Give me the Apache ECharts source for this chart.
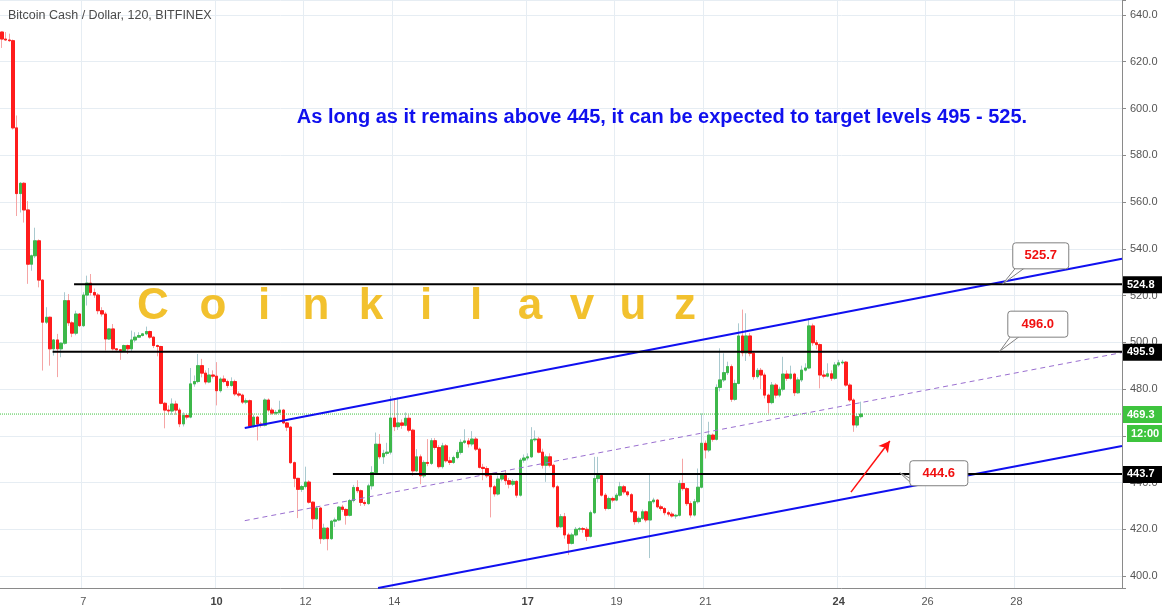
<!DOCTYPE html>
<html>
<head>
<meta charset="utf-8">
<script src="https://cdn.jsdelivr.net/npm/echarts@6/dist/echarts.min.js"></script>
<style>
  html, body { margin: 0; padding: 0; background: #fff; }
  #main { width: 1162px; height: 614px; }
</style>
</head>
<body>
<div id="main"></div>
<script>
// 2h candles, first one on day 5 at 04:00
const firstDay = 5;
const firstHour = 4;
const stepHours = 2;
const slotCount = 303;

const dayLabels = [7, 10, 12, 14, 17, 19, 21, 24, 26, 28];
const boldDays = [10, 17, 24];

// [open, close, low, high]
const bars = [
  [632.7, 629.7, 625.9, 632.9], [629.7, 629.3, 629.0, 632.7], [629.3, 629.0, 628.5, 632.0], [629.0, 591.7, 591.0, 629.5],
  [591.7, 563.6, 554.0, 597.0], [563.6, 568.0, 555.5, 568.5], [568.0, 556.6, 551.2, 568.5], [556.6, 533.4, 525.0, 560.4],
  [533.4, 537.0, 530.6, 537.5], [537.0, 543.4, 536.0, 549.0], [543.4, 526.6, 523.5, 544.0], [526.6, 508.6, 487.9, 527.0],
  [508.6, 510.7, 507.8, 515.0], [510.7, 497.2, 490.0, 511.0], [497.2, 501.0, 494.3, 501.4], [501.0, 497.2, 485.1, 503.6],
  [497.2, 499.6, 493.6, 500.0], [499.6, 517.8, 499.0, 521.4], [517.8, 508.3, 507.0, 520.6], [508.3, 503.9, 502.2, 509.0],
  [503.9, 512.1, 503.0, 513.5], [512.1, 507.1, 506.5, 512.5], [507.1, 520.2, 506.5, 521.4], [520.2, 525.3, 515.7, 528.5],
  [525.3, 521.3, 520.0, 529.2], [521.3, 520.2, 519.0, 523.0], [520.2, 513.5, 512.0, 521.0], [513.5, 512.1, 511.0, 515.0],
  [512.1, 501.4, 496.5, 513.0], [501.4, 505.7, 501.0, 506.0], [505.7, 497.2, 496.5, 507.8], [497.2, 496.8, 496.5, 497.5],
  [496.8, 496.5, 492.5, 497.0], [496.5, 498.6, 496.5, 499.0], [498.6, 497.2, 495.0, 499.0], [497.2, 501.0, 496.0, 505.0],
  [501.0, 502.2, 500.0, 504.3], [502.2, 502.9, 502.0, 504.3], [502.9, 503.6, 502.5, 504.0], [503.6, 504.6, 503.0, 506.7],
  [504.6, 502.2, 501.5, 505.0], [502.2, 498.6, 497.5, 502.5], [498.6, 498.2, 494.0, 499.0], [498.2, 473.9, 473.5, 498.5],
  [473.9, 471.0, 463.2, 474.5], [471.0, 470.6, 469.0, 473.0], [470.6, 473.6, 469.0, 476.0], [473.6, 471.0, 469.0, 475.0],
  [471.0, 465.1, 463.7, 472.0], [465.1, 468.7, 464.0, 470.0], [468.7, 468.0, 467.0, 469.5], [468.0, 482.2, 467.5, 489.0],
  [482.2, 483.2, 481.0, 485.8], [483.2, 490.0, 482.5, 495.0], [490.0, 486.8, 485.0, 492.9], [486.8, 483.0, 482.0, 488.0],
  [483.0, 486.0, 482.5, 489.0], [486.0, 485.5, 484.5, 488.0], [485.5, 479.3, 473.0, 491.5], [479.3, 484.3, 478.5, 485.0],
  [484.3, 483.2, 482.5, 485.8], [483.2, 481.5, 480.5, 484.0], [481.5, 483.2, 481.0, 485.0], [483.2, 477.9, 477.0, 484.0],
  [477.9, 477.4, 476.5, 479.0], [477.4, 474.4, 473.6, 478.0], [474.4, 475.0, 473.5, 476.0], [475.0, 464.1, 463.5, 475.5],
  [464.1, 468.0, 463.5, 469.0], [468.0, 465.0, 458.0, 468.5], [465.0, 464.5, 463.5, 466.0], [464.5, 475.3, 464.0, 476.0],
  [475.3, 471.0, 470.0, 476.0], [471.0, 469.7, 469.0, 472.0], [469.7, 470.0, 469.0, 471.0], [470.0, 471.0, 469.5, 475.0],
  [471.0, 465.5, 465.0, 471.5], [465.5, 463.7, 462.0, 466.0], [463.7, 448.5, 448.0, 464.2], [448.5, 441.8, 438.0, 449.0],
  [441.8, 437.1, 424.8, 442.0], [437.1, 438.3, 436.0, 439.0], [438.3, 440.2, 437.5, 446.8], [440.2, 431.6, 431.0, 441.0],
  [431.6, 424.5, 420.2, 432.0], [424.5, 429.1, 424.0, 430.0], [429.1, 416.0, 413.8, 429.5], [416.0, 420.5, 415.5, 422.4],
  [420.5, 416.0, 411.0, 421.0], [416.0, 423.5, 415.5, 424.0], [423.5, 424.0, 421.0, 425.0], [424.0, 429.5, 423.5, 430.0],
  [429.5, 428.5, 427.5, 430.5], [428.5, 426.0, 422.0, 429.0], [426.0, 432.3, 425.5, 433.0], [432.3, 437.9, 431.5, 439.0],
  [437.9, 436.5, 435.5, 441.0], [436.5, 431.5, 430.0, 437.0], [431.5, 431.0, 430.0, 432.5], [431.0, 438.6, 430.5, 439.5],
  [438.6, 444.3, 437.0, 447.0], [444.3, 456.4, 443.5, 461.4], [456.4, 451.0, 450.0, 460.7], [451.0, 452.5, 448.0, 454.0],
  [452.5, 453.0, 451.5, 457.0], [453.0, 467.6, 452.0, 477.0], [467.6, 463.9, 462.0, 476.0], [463.9, 465.5, 462.5, 476.4],
  [465.5, 464.5, 463.0, 467.0], [464.5, 467.5, 464.0, 470.0], [467.5, 462.4, 461.5, 469.0], [462.4, 445.0, 442.9, 463.0],
  [445.0, 451.0, 444.5, 454.3], [451.0, 442.9, 439.3, 452.0], [442.9, 448.6, 442.0, 449.5], [448.6, 448.2, 447.0, 458.6],
  [448.2, 457.9, 447.5, 459.0], [457.9, 455.0, 454.0, 459.0], [455.0, 446.8, 446.0, 456.0], [446.8, 455.7, 446.0, 457.0],
  [455.7, 449.3, 448.5, 456.5], [449.3, 448.6, 447.5, 451.0], [448.6, 450.7, 448.0, 451.5], [450.7, 452.9, 450.0, 454.0],
  [452.9, 457.2, 452.0, 458.5], [457.2, 457.8, 456.5, 462.8], [457.8, 456.5, 455.0, 459.0], [456.5, 458.6, 455.5, 462.0],
  [458.6, 454.3, 453.5, 459.5], [454.3, 446.5, 446.0, 455.0], [446.5, 446.0, 441.0, 448.0], [446.0, 442.9, 442.0, 447.0],
  [442.9, 438.2, 425.1, 443.5], [438.2, 435.1, 434.0, 439.0], [435.1, 441.5, 434.5, 443.0], [441.5, 443.0, 440.5, 444.0],
  [443.0, 440.8, 439.0, 445.0], [440.8, 439.3, 437.5, 442.0], [439.3, 440.5, 438.5, 441.5], [440.5, 434.6, 433.5, 441.0],
  [434.6, 449.6, 434.0, 450.5], [449.6, 450.5, 448.5, 452.0], [450.5, 451.0, 449.5, 452.5], [451.0, 458.3, 450.5, 463.7],
  [458.3, 458.6, 457.5, 462.3], [458.6, 453.0, 452.5, 459.5], [453.0, 447.4, 446.0, 454.5], [447.4, 451.0, 440.3, 452.0],
  [451.0, 447.4, 446.5, 452.5], [447.4, 438.2, 437.5, 448.0], [438.2, 421.1, 420.5, 439.0], [421.1, 425.4, 420.5, 426.5],
  [425.4, 417.6, 416.0, 427.0], [417.6, 414.0, 409.0, 418.5], [414.0, 417.6, 413.5, 418.5], [417.6, 420.0, 417.0, 421.0],
  [420.0, 420.3, 419.0, 421.0], [420.3, 420.0, 418.5, 421.0], [420.0, 417.0, 415.0, 421.0], [417.0, 427.1, 416.5, 428.0],
  [427.1, 441.7, 426.5, 451.0], [441.7, 443.0, 440.0, 451.0], [443.0, 434.6, 434.0, 444.0], [434.6, 428.9, 428.0, 435.5],
  [428.9, 433.2, 428.5, 434.0], [433.2, 432.5, 431.5, 434.0], [432.5, 434.6, 432.0, 435.5], [434.6, 438.2, 434.0, 440.3],
  [438.2, 436.0, 435.0, 439.0], [436.0, 434.8, 434.0, 436.5], [434.8, 427.5, 427.0, 435.5], [427.5, 423.3, 422.0, 428.0],
  [423.3, 424.7, 422.5, 425.5], [424.7, 427.5, 424.0, 428.5], [427.5, 424.0, 423.0, 428.0], [424.0, 431.8, 407.7, 444.1],
  [431.8, 432.5, 431.0, 433.5], [432.5, 429.6, 429.0, 433.0], [429.6, 428.9, 428.0, 430.5], [428.9, 427.1, 426.0, 429.5],
  [427.1, 426.5, 425.5, 428.0], [426.5, 425.7, 425.0, 427.5], [425.7, 426.0, 424.5, 426.5], [426.0, 439.6, 425.5, 441.0],
  [439.6, 437.4, 436.5, 450.2], [437.4, 431.0, 430.0, 438.0], [431.0, 426.1, 425.0, 432.0], [426.1, 431.8, 425.5, 433.0],
  [431.8, 438.0, 431.0, 446.0], [438.0, 456.8, 437.5, 469.6], [456.8, 453.9, 450.3, 458.0], [453.9, 460.3, 453.0, 466.0],
  [460.3, 458.5, 457.5, 461.0], [458.5, 480.7, 458.0, 482.0], [480.7, 483.9, 479.0, 497.4], [483.9, 487.0, 483.0, 495.3],
  [487.0, 489.6, 486.0, 491.7], [489.6, 475.6, 474.5, 490.5], [475.6, 482.4, 475.0, 484.0], [482.4, 502.7, 482.0, 508.1],
  [502.7, 495.5, 494.0, 514.0], [495.5, 502.7, 492.0, 512.4], [502.7, 495.3, 494.0, 504.0], [495.3, 485.3, 484.0, 496.0],
  [485.3, 488.0, 484.5, 489.0], [488.0, 486.0, 480.0, 489.0], [486.0, 477.4, 476.0, 487.0], [477.4, 474.2, 469.6, 478.0],
  [474.2, 481.7, 473.5, 483.0], [481.7, 477.4, 476.0, 482.5], [477.4, 479.9, 476.5, 481.0], [479.9, 486.4, 479.0, 493.8],
  [486.4, 484.6, 483.5, 488.0], [484.6, 486.4, 484.0, 490.0], [486.4, 478.4, 477.0, 487.0], [478.4, 483.9, 478.0, 485.0],
  [483.9, 488.1, 483.0, 490.0], [488.1, 489.0, 487.5, 491.0], [489.0, 507.0, 488.5, 510.2], [507.0, 499.8, 498.5, 508.0],
  [499.8, 499.0, 497.0, 501.0], [499.0, 486.0, 480.3, 499.5], [486.0, 485.5, 484.5, 488.0], [485.5, 486.5, 485.0, 491.0],
  [486.5, 484.6, 483.5, 488.0], [484.6, 490.3, 484.0, 491.5], [490.3, 491.2, 489.5, 492.5], [491.2, 491.5, 490.5, 492.5],
  [491.5, 481.7, 481.0, 492.0], [481.7, 475.3, 474.5, 482.5], [475.3, 464.6, 461.7, 476.0], [464.6, 468.2, 463.5, 469.5],
  [468.2, 469.3, 467.5, 474.6]
];

// drawings, in [candle index, price]
const levels = [
  { price: 524.8, from: 19.5 },
  { price: 495.9, from: 13.7 },
  { price: 443.7, from: 89.4 }
];
const lastPrice = 469.3;
const countdown = '12:00';
const channelUpper = [[65.6, 463.3], [302.5, 535.7]];
const channelLower = [[101.6, 394.9], [302.5, 455.6]];
const channelMid = [[65.6, 423.7], [302.5, 495.6]];
const arrowPath = [[229.3, 435.9], [239.8, 457.8]];
const callouts = [
  { text: '525.7', at: [270.3, 525.0] },
  { text: '496.0', at: [269.5, 496.2] },
  { text: '444.6', at: [242.5, 444.2] }
];

const title = 'Bitcoin Cash / Dollar, 120, BITFINEX';
const note = 'As long as it remains above 445, it can be expected to target levels 495 - 525.';
const brand = 'Coinkilavuz';

const FONT = 'Liberation Sans, Arial, sans-serif';

const categories = [];
for (let i = 0; i < slotCount; i++) {
  const h = firstHour + i * stepHours;
  categories.push((firstDay + Math.floor(h / 24)) + '|' + (h % 24));
}
function isDayTick(index) {
  const [d, h] = categories[index].split('|').map(Number);
  return h === 0 && dayLabels.indexOf(d) >= 0;
}

const bodies = bars.map(b => [b[0], b[1], Math.min(b[0], b[1]), Math.max(b[0], b[1])]);
const lastX = slotCount - 0.5;

const chart = echarts.init(document.getElementById('main'));

const lineSeries = (data, color, width, type) => ({
  type: 'line',
  xAxisIndex: 1,
  data: data,
  symbol: 'none',
  silent: true,
  animation: false,
  lineStyle: { color: color, width: width, type: type || 'solid' }
});

const option = {
  animation: false,
  backgroundColor: '#ffffff',
  grid: { left: 0, right: 40, top: 0, bottom: 26 },
  xAxis: [{
    type: 'category',
    data: categories,
    boundaryGap: true,
    axisLine: { onZero: false, lineStyle: { color: '#8a8a8a' } },
    axisTick: { alignWithLabel: true, length: 4, interval: isDayTick, lineStyle: { color: '#8a8a8a' } },
    axisLabel: {
      interval: isDayTick,
      margin: 8,
      fontFamily: FONT,
      fontSize: 11,
      color: '#555',
      formatter: v => {
        const d = Number(v.split('|')[0]);
        return boldDays.indexOf(d) >= 0 ? '{b|' + d + '}' : String(d);
      },
      rich: { b: { fontWeight: 'bold', fontFamily: FONT, fontSize: 11, color: '#444' } }
    },
    splitLine: { show: true, interval: isDayTick, lineStyle: { color: '#e6edf3' } }
  }, {
    type: 'value',
    min: -0.5,
    max: lastX,
    show: false
  }],
  yAxis: {
    type: 'value',
    position: 'right',
    min: 394.9,
    max: 646.4,
    minInterval: 20,
    maxInterval: 20,
    axisLine: { show: true, onZero: false, lineStyle: { color: '#8a8a8a' } },
    axisTick: { show: true, length: 4, lineStyle: { color: '#8a8a8a' } },
    axisLabel: {
      margin: 8,
      fontFamily: FONT,
      fontSize: 11,
      color: '#555',
      formatter: v => (Math.abs(v % 20) < 0.01 ? v.toFixed(1) : '')
    },
    splitLine: { lineStyle: { color: '#e6edf3' } }
  },
  series: [
    {
      name: 'wicks',
      type: 'candlestick',
      data: bars,
      barWidth: 3,
      silent: true,
      itemStyle: { color: '#a9c9cf', color0: '#f5a5a5', borderColor: '#a9c9cf', borderColor0: '#f5a5a5', borderWidth: 1 }
    },
    {
      name: 'bodies',
      type: 'candlestick',
      data: bodies,
      barWidth: 3,
      silent: true,
      itemStyle: { color: '#3db84a', color0: '#ff1c1c', borderColor: '#3db84a', borderColor0: '#ff1c1c', borderWidth: 1 }
    },
    lineSeries([[-0.5, lastPrice], [lastX, lastPrice]], '#3ec43e', 1, 'dotted'),
    lineSeries(channelMid, '#9a6fd0', 1, [5, 4]),
    lineSeries(channelUpper, '#1010f0', 2),
    lineSeries(channelLower, '#1010f0', 2),
    ...levels.map(l => lineSeries([[l.from, l.price], [lastX, l.price]], '#000000', 2)),
    {
      type: 'line',
      xAxisIndex: 1,
      data: [],
      markLine: {
        silent: true,
        symbol: ['none', 'arrow'],
        symbolSize: [9, 11],
        label: { show: false },
        lineStyle: { color: '#ff1010', width: 1.5, type: 'solid' },
        data: [[{ coord: arrowPath[0] }, { coord: arrowPath[1] }]]
      }
    }
  ]
};

chart.setOption(option);

// annotations placed from data coordinates
const levelSeriesIndex = 2;
const toPx = p => chart.convertToPixel({ seriesIndex: levelSeriesIndex }, p);
const graphics = [];

graphics.push({
  type: 'text', left: 8, top: 9, z: 100,
  style: { text: title, font: '12.5px ' + FONT, fill: '#4a4a4a' }
});
graphics.push({
  type: 'text', x: 662, y: 117, z: 100,
  style: { text: note, font: 'bold 20px ' + FONT, fill: '#1010ee', align: 'center', verticalAlign: 'middle' }
});
const brandX = [153, 213, 264, 316, 371, 426, 476, 530, 582, 633, 685];
brand.split('').forEach((ch, i) => {
  graphics.push({
    type: 'text', x: brandX[i], y: 307, z: 100,
    style: { text: ch, font: 'bold 44px ' + FONT, fill: '#f2c12e', align: 'center', verticalAlign: 'middle' }
  });
});

const boxes = [
  { dx: 10, dy: -41, w: 56, h: 26 },
  { dx: 8, dy: -40, w: 60, h: 26 },
  { dx: 10, dy: -12, w: 58, h: 25 }
];
callouts.forEach((c, i) => {
  const [tx, ty] = toPx(c.at);
  const b = boxes[i];
  const bx = tx + b.dx, by = ty + b.dy;
  graphics.push({
    type: 'polygon', z: 100,
    shape: { points: [[tx, ty], [bx + 3, by + b.h - 1], [bx + 12, by + b.h - 1]] },
    style: { fill: '#fff', stroke: '#808080', lineWidth: 1 }
  });
  graphics.push({
    type: 'rect', z: 101,
    shape: { x: bx, y: by, width: b.w, height: b.h, r: 3 },
    style: { fill: '#fff', stroke: '#808080', lineWidth: 1 }
  });
  graphics.push({
    type: 'text', x: bx + b.w / 2, y: by + b.h / 2, z: 102,
    style: { text: c.text, font: 'bold 13px ' + FONT, fill: '#f01010', align: 'center', verticalAlign: 'middle' }
  });
});

// price tags on the right axis
const tag = (price, text, fill, yShift, x0) => {
  const left = x0 || 1123;
  const y = toPx([0, price])[1] + (yShift || 0);
  graphics.push({
    type: 'rect', z: 100, shape: { x: left, y: y - 8, width: 1162 - left, height: 17 },
    style: { fill: fill }
  });
  graphics.push({
    type: 'text', x: left + 4, y: y + 0.5, z: 101,
    style: { text: text, font: 'bold 11px ' + FONT, fill: '#fff', verticalAlign: 'middle' }
  });
};
levels.forEach(l => tag(l.price, l.price.toFixed(1), '#000000'));
tag(lastPrice, lastPrice.toFixed(1), '#3ec43e');
tag(lastPrice, countdown, '#3ec43e', 19, 1127);

chart.setOption({ graphic: graphics });
</script>
</body>
</html>
